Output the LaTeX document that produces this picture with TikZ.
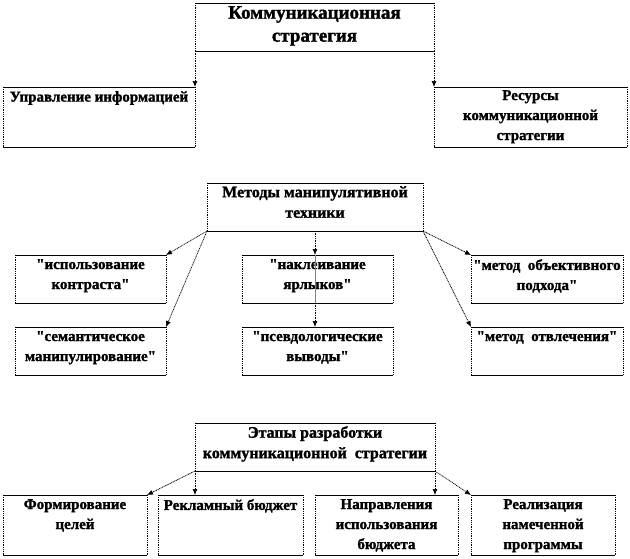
\documentclass[tikz,border=0pt]{standalone}
\usepackage{fontspec}
\setmainfont{Liberation Serif}[BoldFeatures={FakeBold=1.5}]
\usetikzlibrary{arrows.meta}
\newcommand{\qq}{\XeTeXglyph\XeTeXcharglyph"22\relax}
\tikzset{
  hline/.style={draw=black, line width=0.9pt},
  vline/.style={draw=black, line width=0.9pt, dash pattern=on 1pt off 0.8pt},
  box/.style={inner sep=0pt, outer sep=0pt,
    append after command={
      (\tikzlastnode.north west) edge[hline] (\tikzlastnode.north east)
      (\tikzlastnode.south west) edge[hline] (\tikzlastnode.south east)
      (\tikzlastnode.north west) edge[vline] (\tikzlastnode.south west)
      (\tikzlastnode.north east) edge[vline] (\tikzlastnode.south east)}},
  txt/.style={inner sep=0pt, align=center, anchor=north,
    font=\bfseries\fontsize{15}{20}\selectfont},
  bigtxt/.style={txt, font=\bfseries\fontsize{19}{23}\selectfont},
  midtxt/.style={txt, font=\bfseries\fontsize{16}{20.5}\selectfont},
  conn/.style={draw=black, line width=0.7pt, dash pattern=on 1pt off 0.7pt,
    -{Latex[length=6pt,width=5pt]}},
}
\begin{document}
\begin{tikzpicture}[x=1pt,y=-1pt]
\useasboundingbox (0,0) rectangle (630,558);
% level 1
\node[box, minimum width=239pt, minimum height=48pt] (top) at (314.5,27) {};
\node[bigtxt] (topT) at ([yshift=-3pt]top.north) {Коммуникационная\\стратегия};
\node[box, minimum width=192pt, minimum height=60pt] (upr) at (99,117) {};
\node[txt] (uprT) at ([yshift=-4pt]upr.north) {Управление информацией};
\node[box, minimum width=193pt, minimum height=60pt] (res) at (530.5,117) {};
\node[txt] (resT) at ([yshift=-3pt]res.north) {Ресурсы\\коммуникационной\\стратегии};
\draw[conn] (top.south west) -- (upr.north east);
\draw[conn] (top.south east) -- (res.north west);
% level 2
\node[box, minimum width=216pt, minimum height=48pt] (meth) at (315,207) {};
\node[midtxt] (methT) at ([yshift=-3pt]meth.north) {Методы манипулятивной\\техники};
\node[box, minimum width=151pt, minimum height=48pt] (l1) at (90.5,279) {};
\node[txt] (l1T) at ([yshift=-4pt]l1.north) {\qq использование\\контраста\qq};
\node[box, minimum width=151pt, minimum height=48pt] (l2) at (90.5,351) {};
\node[txt] (l2T) at ([yshift=-4pt]l2.north) {\qq семантическое\\манипулирование\qq};
\node[box, minimum width=151pt, minimum height=48pt] (c1) at (317.5,279) {};
\node[txt] (c1T) at ([yshift=-4pt]c1.north) {\qq наклеивание\\ярлыков\qq};
\node[box, minimum width=151pt, minimum height=48pt] (c2) at (317.5,351) {};
\node[txt] (c2T) at ([yshift=-4pt]c2.north) {\qq псевдологические\\выводы\qq};
\node[box, minimum width=152pt, minimum height=48pt] (r1) at (547,279) {};
\node[txt] (r1T) at ([yshift=-4pt]r1.north) {\qq метод\ \ объективного\\подхода\qq};
\node[box, minimum width=152pt, minimum height=48pt] (r2) at (547,351) {};
\node[txt] (r2T) at ([yshift=-4pt]r2.north) {\qq метод\ \ отвлечения\qq};
\draw[conn] (meth.south west) -- (l1.north east);
\draw[conn] (meth.south west) -- (l2.north east);
\draw[conn] (meth.south) -- (meth.south |- c1.north);
\draw[gray, line width=1pt] (meth.south |- c1.north) -- (meth.south |- c1.south);
\draw[conn] (meth.south |- c1.south) -- (meth.south |- c2.north);
\draw[conn] (meth.south east) -- (r1.north west);
\draw[conn] (meth.south east) -- (r2.north west);
% level 3
\node[box, minimum width=240pt, minimum height=48pt] (st) at (315,447) {};
\node[midtxt] (stT) at ([yshift=-3pt]st.north) {Этапы разработки\\коммуникационной\ \ стратегии};
\node[box, minimum width=144pt, minimum height=60pt] (b1) at (75,525) {};
\node[txt] (b1T) at ([yshift=-4pt]b1.north) {Формирование\\целей};
\node[box, minimum width=145pt, minimum height=60pt] (b2) at (230.5,525) {};
\node[txt] (b2T) at ([yshift=-4pt]b2.north) {Рекламный бюджет};
\node[box, minimum width=143pt, minimum height=60pt] (b3) at (386.5,525) {};
\node[txt] (b3T) at ([yshift=-4pt]b3.north) {Направления\\использования\\бюджета};
\node[box, minimum width=144pt, minimum height=60pt] (b4) at (543,525) {};
\node[txt] (b4T) at ([yshift=-4pt]b4.north) {Реализация\\намеченной\\программы};
\draw[conn] (st.south west) -- (b1.north east);
\draw[conn] (st.south west) -- (st.south west |- b2.north);
\draw[conn] (st.south east) -- (st.south east |- b3.north);
\draw[conn] (st.south east) -- (b4.north west);
\end{tikzpicture}
\end{document}
